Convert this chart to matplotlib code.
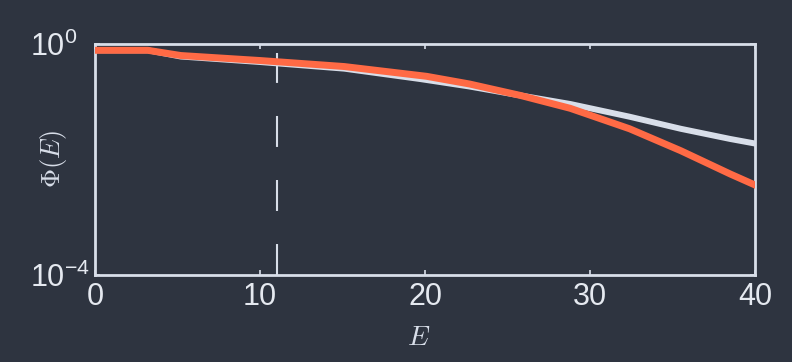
import numpy as np
import matplotlib
matplotlib.use('Agg')
import matplotlib.pyplot as plt

### Data
energy_gray = [0, 3.2, 5.2, 10.0, 15.1, 19.7, 22.7, 25.8, 28.8, 32.4, 35.5, 38.5, 40]
phi_gray = [0.763, 0.763, 0.596, 0.479, 0.368, 0.2435, 0.1807, 0.1263, 0.0901, 0.0543, 0.0336, 0.0224, 0.0187]
energy_orange = [0, 3.2, 5.2, 10.0, 15.1, 20.1, 22.7, 25.8, 28.8, 32.4, 35.5, 38.5, 40]
phi_orange = [0.763, 0.763, 0.620, 0.508, 0.400, 0.271, 0.1996, 0.1263, 0.0759, 0.0336, 0.01405, 0.00556, 0.00359]
e_mark = 11
mark_top = 0.685

xticks = [0, 10, 20, 30, 40]
yticks = [1e-4, 1e0]
ytick_labels = [r'$\mathregular{10^{-4}}$', r'$\mathregular{10^{0}}$']

### Style
bg = '#2e3440'
fg = '#d8dee9'
txt = '#e5e9f0'
orange = '#ff6a45'

plt.rcParams['font.family'] = ['Liberation Sans', 'DejaVu Sans']
plt.rcParams['mathtext.fontset'] = 'cm'

fig = plt.figure(figsize=(7.92, 3.62), dpi=100, facecolor=bg)
ax = fig.add_axes([95/792, 1 - 275/362, 660/792, 231.5/362], facecolor=bg)

ax.plot(energy_gray, phi_gray, color=fg, lw=4.3, solid_joinstyle='round', zorder=3)
ax.plot(energy_orange, phi_orange, color=orange, lw=5.0, solid_joinstyle='round', zorder=4)

# dashed marker line, drawn from the bottom up
lw_d = 1.5
ax.plot([e_mark, e_mark], [1e-4, mark_top], color=fg, lw=lw_d,
		linestyle=(0, (22.3/lw_d, 23.8/lw_d)), zorder=2)

ax.set_yscale('log')
ax.set_xlim(0, 40)
ax.set_ylim(1e-4, 1e0)
ax.set_xticks(xticks)
ax.set_yticks(yticks)
ax.set_yticklabels(ytick_labels)
ax.yaxis.set_minor_locator(matplotlib.ticker.NullLocator())

for s in ax.spines.values():
	s.set_color(fg)
	s.set_linewidth(2.0)

ax.tick_params(axis='both', which='both', direction='in', color=fg, width=1.2, length=3.5,
				labelcolor=txt, labelsize=22, top=True, right=True)
ax.tick_params(axis='x', pad=5)
ax.tick_params(axis='y', pad=47)
for lab in ax.get_yticklabels():
	lab.set_horizontalalignment('left')

ax.set_xlabel(r'$E$', color=fg, fontsize=20)
ax.set_ylabel(r'$\Phi(E)$', color=fg, fontsize=19)
ax.xaxis.set_label_coords(0.49, -0.215)
ax.yaxis.set_label_coords(-0.04, 0.5)

plt.savefig('out.png', dpi=100, facecolor=bg)
